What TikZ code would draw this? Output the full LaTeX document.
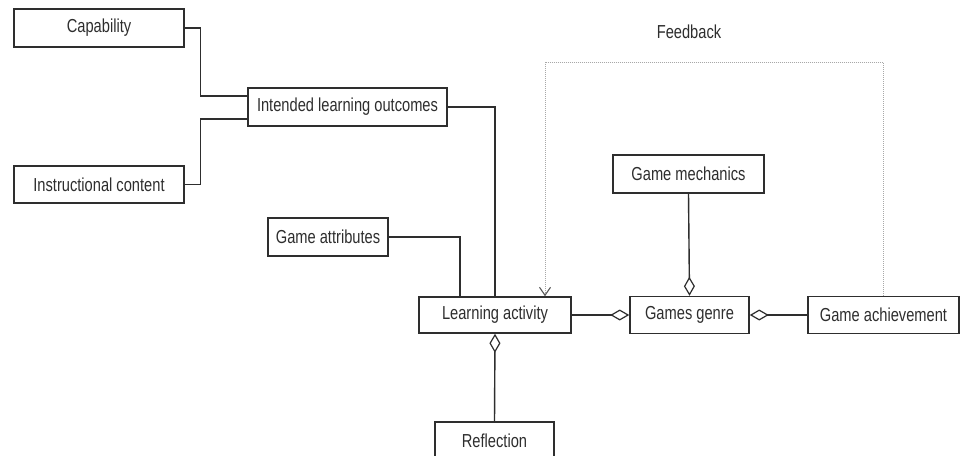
\documentclass[tikz,border=0pt]{standalone}
\usepackage{fontspec}
\setmainfont{Liberation Sans}[FakeStretch=0.78]
\usetikzlibrary{arrows.meta,calc}
\definecolor{ink}{HTML}{2E2E2E}
\definecolor{fbgray}{HTML}{A8A8A8}
\begin{document}
\begin{tikzpicture}[x=1pt,y=-1pt,
  box/.style={draw=ink,line width=1.5pt,fill=white,inner sep=0pt,text=ink,
    font=\fontsize{18.8}{20}\selectfont},
  conn/.style={draw=ink,line width=1.4pt},
  agg/.style={conn,-{Diamond[open,length=19pt,width=11pt,line width=1.2pt]}},
  aggs/.style={conn,{Diamond[open,length=19pt,width=11pt,line width=1.2pt]}-},
  fb/.style={draw=fbgray,line width=1pt,densely dotted,
    -{Straight Barb[length=8pt,width=11pt,line width=1.1pt,color=gray!70!black]}}]
\useasboundingbox[fill=white] (0,0) rectangle (963,455);
\clip (0,0) rectangle (963,455);
\node[box,minimum width=170pt,minimum height=38pt] (cap) at (99,28) {Capability};
\node[box,minimum width=170pt,minimum height=37pt] (ic) at (99,184.5) {Instructional content};
\node[box,minimum width=199pt,minimum height=38pt] (ilo) at (347.5,107) {Intended learning outcomes};
\node[box,minimum width=120pt,minimum height=38pt] (gat) at (328,237) {Game attributes};
\node[box,minimum width=152pt,minimum height=36pt] (la) at (495,315) {Learning activity};
\node[box,minimum width=119pt,minimum height=37pt] (ref) at (494.5,440.5) {Reflection};
\node[box,minimum width=151pt,minimum height=38pt] (gm) at (688.5,174) {Game mechanics};
\node[box,minimum width=119pt,minimum height=37pt] (gg) at (689.5,315) {Games genre};
\node[box,minimum width=151pt,minimum height=37pt] (gach) at (883.5,315) {Game achievement};
\node[text=ink,font=\fontsize{18.8}{20}\selectfont] (fbl) at (689,32) {Feedback};
% connectors
\draw[conn] (cap.east) -- ++(16,0) |- ([yshift=11pt]ilo.west);
\draw[conn] (ic.east) -- ++(16,0) |- ([yshift=-12pt]ilo.west);
\draw[conn] (ilo.east) -| (la.north);
\draw[conn] (gat.east) -| ([xshift=-35pt]la.north);
\draw[aggs] (la.south) -- (ref.north);
\draw[agg] (la.east) -- (gg.west);
\draw[agg] (gm.south) -- (gg.north);
\draw[agg] (gach.west) -- (gg.east);
\coordinate (fbtop) at (0,62);
\coordinate (fbin) at ([xshift=50pt]la.north);
\draw[fb] (gach.north) -- (gach.north |- fbtop) -- (fbin |- fbtop) -- (fbin);
\end{tikzpicture}
\end{document}
